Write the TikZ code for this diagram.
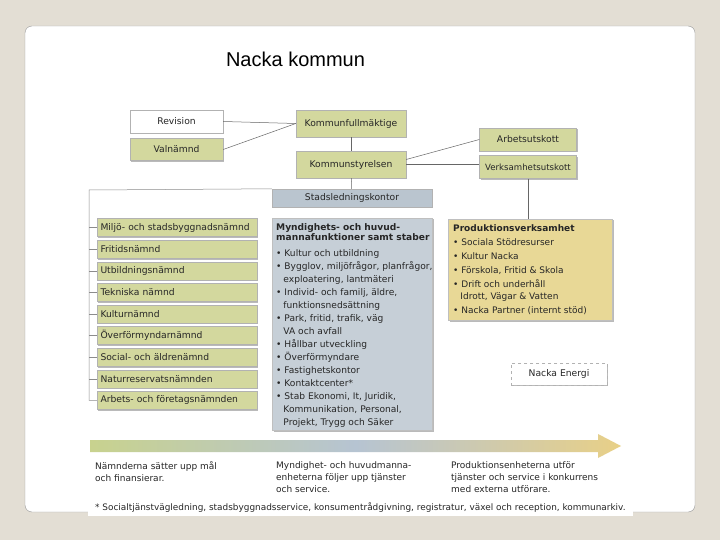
\documentclass[tikz,border=0pt]{standalone}
\usepackage{fontspec}
\setmainfont{DejaVu Sans}
\newfontfamily\titlefont{Liberation Sans}
\usetikzlibrary{shadows,calc}
\definecolor{slidebg}{RGB}{227,222,212}
\definecolor{nmgreen}{RGB}{211,216,158}
\definecolor{slkblue}{RGB}{186,197,207}
\definecolor{mynblue}{RGB}{198,207,215}
\definecolor{prodtan}{RGB}{232,216,150}
\definecolor{arrgreen}{RGB}{200,210,142}
\definecolor{arrblue}{RGB}{182,196,210}
\definecolor{arrtan}{RGB}{232,208,135}

\begin{document}
\begin{tikzpicture}[x=1pt,y=-1pt,font=\fontsize{9.2}{11}\selectfont,
  text=black!85,
  sh/.style={drop shadow={shadow xshift=1.3pt,shadow yshift=-1.3pt,fill=black!45,opacity=.6}},
  box/.style={draw=black!30,fill=nmgreen,sh,inner sep=2pt,align=center},
  nbox/.style={box,minimum width=160pt,minimum height=18pt,text width=153pt,align=left},
  panel/.style={draw=black!25,sh,anchor=north west,inner sep=0pt},
  con/.style={draw=black!60,line width=.5pt},
  small/.style={font=\fontsize{9.1}{13}\selectfont,align=left,anchor=north west,inner sep=0pt},
  note/.style={font=\fontsize{9}{12}\selectfont,align=left,anchor=north west,inner sep=0pt}]
  \useasboundingbox (0,0) rectangle (720,540);
  % slide background
  \fill[slidebg] (0,0) rectangle (720,540);
  \draw[black!40,fill=white,rounded corners=7pt] (25,26) rectangle (695,512);
  \node[font=\titlefont\fontsize{20}{24}\selectfont,text=black] (title) at (295.5,59) {Nacka kommun};
  % top: council and its boards
  \node[box,fill=white,minimum width=93pt,minimum height=23pt] (rev) at (176.5,121.5) {Revision};
  \node[box,minimum width=93pt,minimum height=22pt] (val) at (176.5,149.5) {Valnämnd};
  \node[box,minimum width=110pt,minimum height=27pt] (kf) at (351,123.5) {Kommunfullmäktige};
  \node[box,minimum width=110pt,minimum height=27pt] (ks) at (351,164.5) {Kommunstyrelsen};
  \node[box,fill=slkblue,minimum width=160pt,minimum height=18pt] (slk) at (352,198) {Stadsledningskontor};
  \node[box,minimum width=97pt,minimum height=23pt] (au) at (528,139.5) {Arbetsutskott};
  \node[box,minimum width=97pt,minimum height=23pt,font=\fontsize{8.6}{10}\selectfont] (vu) at (528,167) {Verksamhetsutskott};
  % left column: the committees
  \foreach \t [count=\i] in {Miljö- och stadsbyggnadsnämnd,Fritidsnämnd,Utbildningsnämnd,
    Tekniska nämnd,Kulturnämnd,Överförmyndarnämnd,Social- och äldrenämnd,
    Naturreservatsnämnden,Arbets- och företagsnämnden}
    \node[nbox] (c\i) at (177,206+21.6*\i) {\t};
  % middle and right panels
  \node[panel,fill=mynblue,minimum width=160pt,minimum height=212pt] (myn) at (272,218) {};
  \node[small] (myntext) at ([shift={(4,5)}]myn.north west)
    {\textbf{Myndighets- och huvud-}\\[-3pt]
     \textbf{mannafunktioner samt staber}\\[3pt]
     \textbullet\ Kultur och utbildning\\
     \textbullet\ Bygglov, miljöfrågor, planfrågor,\\
     \hspace*{.8em}exploatering, lantmäteri\\
     \textbullet\ Individ- och familj, äldre,\\
     \hspace*{.8em}funktionsnedsättning\\
     \textbullet\ Park, fritid, trafik, väg\\
     \hspace*{.8em}VA och avfall\\
     \textbullet\ Hållbar utveckling\\
     \textbullet\ Överförmyndare\\
     \textbullet\ Fastighetskontor\\
     \textbullet\ Kontaktcenter*\\
     \textbullet\ Stab Ekonomi, It, Juridik,\\
     \hspace*{.8em}Kommunikation, Personal,\\
     \hspace*{.8em}Projekt, Trygg och Säker};
  \node[panel,fill=prodtan,minimum width=164pt,minimum height=101pt] (prod) at (448,219) {};
  \node[small,font=\fontsize{9}{14}\selectfont] (prodtext) at ([shift={(5,5)}]prod.north west)
    {\textbf{Produktionsverksamhet}\\
     \textbullet\ Sociala Stödresurser\\
     \textbullet\ Kultur Nacka\\
     \textbullet\ Förskola, Fritid \& Skola\\
     \textbullet\ Drift och underhåll\\[-1.5pt]
     \hspace*{.8em}Idrott, Vägar \& Vatten\\
     \textbullet\ Nacka Partner (internt stöd)};
  \node[box,fill=white,dashed,minimum width=96pt,minimum height=22pt] (ne) at (559,374) {Nacka Energi};
  % connectors
  \draw[con] (rev.east) -- (kf.west);
  \draw[con] (val.east) -- (kf.west);
  \draw[con] (kf) -- (ks);
  \draw[con] (ks) -- (slk);
  \draw[con] ([yshift=5pt]ks.east) -- (au.west);
  \draw[con] (ks.east) -- (ks.east -| vu.west);
  \draw[con] (vu.south) -- (vu.south |- prod.north);
  \coordinate (trunk) at (89,190);
  \draw[con,black!45] (slk.north west) -- (trunk) |- (c9.west);
  \foreach \i in {1,...,8}
    \draw[con,black!45] (c\i.west -| trunk) -- (c\i.west);
  % bottom: flow arrow and notes
  \shade[left color=arrgreen,right color=arrtan,middle color=arrblue]
    (90,440) -- (598,440) -- (598,434) -- (621,446) -- (598,458) -- (598,452) -- (90,452) -- cycle;
  \node[note] (n1) at (95,461)
    {Nämnderna sätter upp mål\\och finansierar.};
  \node[note] (n2) at (276,461)
    {Myndighet- och huvudmanna-\\enheterna följer upp tjänster\\och service.};
  \node[note] (n3) at (451,461)
    {Produktionsenheterna utför\\tjänster och service i konkurrens\\med externa utförare.};
  \node[fill=white,anchor=west,inner xsep=7pt,inner ysep=3pt,font=\fontsize{8.9}{10}\selectfont] (foot) at (88,508)
    {* Socialtjänstvägledning, stadsbyggnadsservice, konsumentrådgivning, registratur, växel och reception, kommunarkiv.};
\end{tikzpicture}
\end{document}
